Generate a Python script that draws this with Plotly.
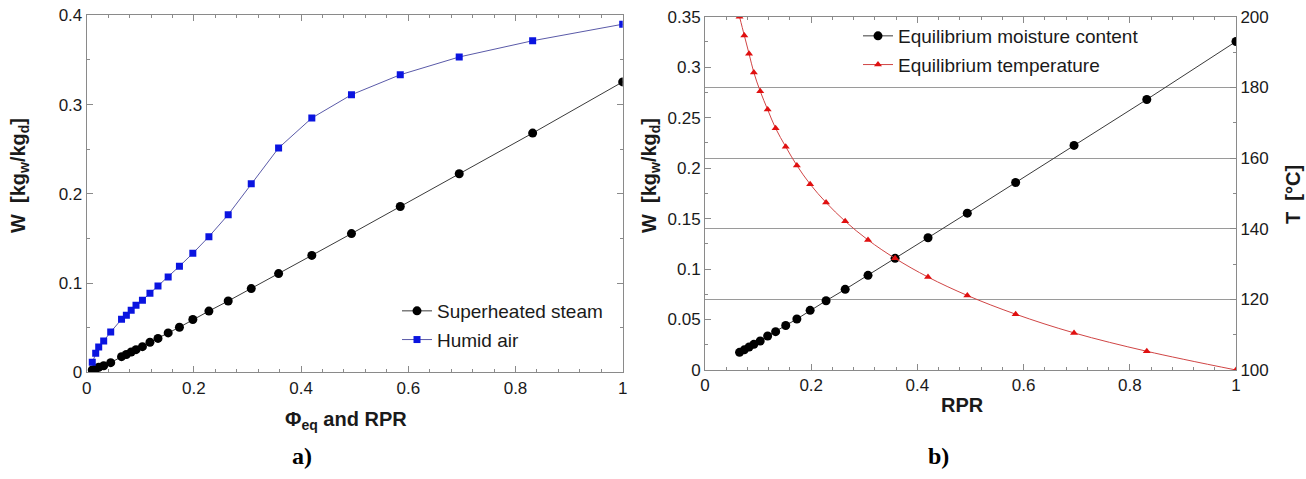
import plotly.graph_objects as go

# ---------------- data ----------------
# panel a) : x = Phi_eq (humid air) and RPR (superheated steam)
phi_rpr = [0.0104, 0.0168, 0.0224, 0.0317, 0.0448,
           0.065, 0.074, 0.083, 0.092, 0.104, 0.118, 0.133, 0.152, 0.173, 0.198,
           0.228, 0.264, 0.307, 0.358, 0.420, 0.494, 0.585, 0.695, 0.832, 1.0]
w_steam_a = [0.0026, 0.0040, 0.0056, 0.0074, 0.0108,
             0.0175, 0.0200, 0.0228, 0.0254, 0.0287, 0.0337, 0.0380, 0.0441, 0.0505, 0.0591,
             0.0686, 0.0799, 0.0938, 0.1106, 0.1310, 0.1554, 0.1858, 0.2225, 0.2680, 0.3254]
w_air_a = [0.0112, 0.0213, 0.0283, 0.0351, 0.0452,
           0.0594, 0.0639, 0.0695, 0.0751, 0.0807, 0.0885, 0.0967, 0.1068, 0.1188, 0.1333,
           0.1520, 0.1766, 0.2113, 0.2513, 0.2849, 0.3110, 0.3334, 0.3533, 0.3715, 0.3900]

# panel b) : x = RPR
rpr_b = [0.065, 0.074, 0.083, 0.092, 0.104, 0.118, 0.133, 0.152, 0.173, 0.198,
         0.228, 0.264, 0.307, 0.358, 0.420, 0.494, 0.585, 0.695, 0.832, 1.0]
w_eq_b = [0.0175, 0.0200, 0.0228, 0.0254, 0.0287, 0.0337, 0.0380, 0.0441, 0.0505, 0.0591,
          0.0686, 0.0799, 0.0938, 0.1106, 0.1310, 0.1554, 0.1858, 0.2225, 0.2680, 0.3254]
t_eq_b = [200.0, 194.7, 189.5, 184.2, 178.9, 173.7, 168.4, 163.2, 157.9, 152.6,
          147.4, 142.1, 136.8, 131.6, 126.3, 121.1, 115.8, 110.5, 105.3, 100.0]

names_a = ["Superheated steam", "Humid air"]
names_b = ["Equilibrium moisture content", "Equilibrium temperature"]

# ---------------- figure ----------------
W, H = 1306, 479
FONT = "Liberation Sans, Arial, sans-serif"
AX = "#8a8a8a"
TXT = "#1a1a1a"

fig = go.Figure()

fig.add_trace(go.Scatter(
    x=phi_rpr, y=w_steam_a, name=names_a[0], mode="lines+markers",
    line=dict(color="#3a3a3a", width=1),
    marker=dict(symbol="circle", size=9, color="black"),
    xaxis="x", yaxis="y", legend="legend", legendgroup="a1"))
fig.add_trace(go.Scatter(
    x=phi_rpr, y=w_air_a, name=names_a[1], mode="lines+markers",
    line=dict(color="#5a5aa8", width=1),
    marker=dict(symbol="square", size=7, color="#0a14e0"),
    xaxis="x", yaxis="y", legend="legend", legendgroup="a2"))

fig.add_trace(go.Scatter(
    x=rpr_b, y=w_eq_b, name=names_b[0], mode="lines+markers",
    line=dict(color="#3a3a3a", width=1),
    marker=dict(symbol="circle", size=9, color="black"),
    xaxis="x2", yaxis="y2", legend="legend2", legendgroup="b1"))
fig.add_trace(go.Scatter(
    x=rpr_b, y=t_eq_b, name=names_b[1], mode="lines+markers",
    line=dict(color="#d04545", width=1, shape="spline"),
    marker=dict(symbol="triangle-up", size=7, color="#e01010"),
    xaxis="x2", yaxis="y3", legend="legend2", legendgroup="b2"))

def px_x(p):
    return p / W

def px_y(p):
    return 1 - p / H

tickfont = dict(family=FONT, size=17, color=TXT)

def axis(domain, rng, dtick, mdtick, mirror, **kw):
    d = dict(domain=domain, range=rng, dtick=dtick, showline=True, linecolor=AX,
             linewidth=1, mirror=mirror, ticks="inside", ticklen=6, tickcolor=AX,
             tickwidth=1, showgrid=False, zeroline=False, tickfont=tickfont,
             automargin=False,
             minor=dict(ticks="inside", ticklen=3, dtick=mdtick, tickcolor=AX,
                        showgrid=False))
    d.update(kw)
    return d

xa_dom = [px_x(86.7), px_x(622.7)]
ya_dom = [px_y(372.3), px_y(15.3)]
xb_dom = [px_x(705), px_x(1236)]
yb_dom = [px_y(370), px_y(16.7)]

fig.update_layout(
    width=W, height=H,
    margin=dict(l=0, r=0, t=0, b=0, autoexpand=False),
    paper_bgcolor="white", plot_bgcolor="white",
    font=dict(family=FONT, color=TXT),
    xaxis=axis(xa_dom, [0, 1], 0.2, 0.04, "ticks", anchor="y"),
    yaxis=axis(ya_dom, [0, 0.4], 0.1, 0.05, "ticks", anchor="x"),
    xaxis2=axis(xb_dom, [0, 1], 0.2, 0.04, "ticks", anchor="y2"),
    yaxis2=axis(yb_dom, [0, 0.35], 0.05, 0.025, False, anchor="x2"),
    yaxis3=axis(yb_dom, [100, 200], 20, 10, False, anchor="x2",
                overlaying="y2", side="right", showgrid=True,
                gridcolor="#9a9a9a", gridwidth=1),
    legend=dict(x=px_x(397), y=px_y(292), xanchor="left", yanchor="top",
                bgcolor="rgba(0,0,0,0)", font=dict(family=FONT, size=19, color=TXT),
                tracegroupgap=1, itemwidth=30),
    legend2=dict(x=px_x(858), y=px_y(17), xanchor="left", yanchor="top",
                 bgcolor="rgba(0,0,0,0)", font=dict(family=FONT, size=19, color=TXT),
                 tracegroupgap=1, itemwidth=30),
)

title_font = dict(family=FONT, size=20, color=TXT)
ann = [
    dict(text="<b>W  [kg<sub>w</sub>/kg<sub>d</sub>]</b>", x=px_x(20), y=px_y(176),
         textangle=-90),
    dict(text="<b>W  [kg<sub>w</sub>/kg<sub>d</sub>]</b>", x=px_x(651), y=px_y(176),
         textangle=-90),
    dict(text="<b>T  [°C]</b>", x=px_x(1293), y=px_y(195), textangle=-90),
    dict(text="<b>Φ<sub>eq</sub> and RPR</b>", x=px_x(346), y=px_y(420)),
    dict(text="<b>RPR</b>", x=px_x(962), y=px_y(405)),
]
for a in ann:
    fig.add_annotation(xref="paper", yref="paper", showarrow=False,
                       xanchor="center", yanchor="middle", font=title_font, **a)

for lab, xc in [("a)", 302), ("b)", 938)]:
    fig.add_annotation(text="<b>" + lab + "</b>", xref="paper", yref="paper",
                       x=px_x(xc), y=px_y(456), showarrow=False,
                       xanchor="center", yanchor="middle",
                       font=dict(family="Liberation Serif, Times New Roman, serif",
                                 size=24, color="black"))

fig.write_html("out.html",
               config={"displayModeBar": False},
               post_script="document.body.style.margin='0';"
                           "document.body.style.overflow='hidden';")
